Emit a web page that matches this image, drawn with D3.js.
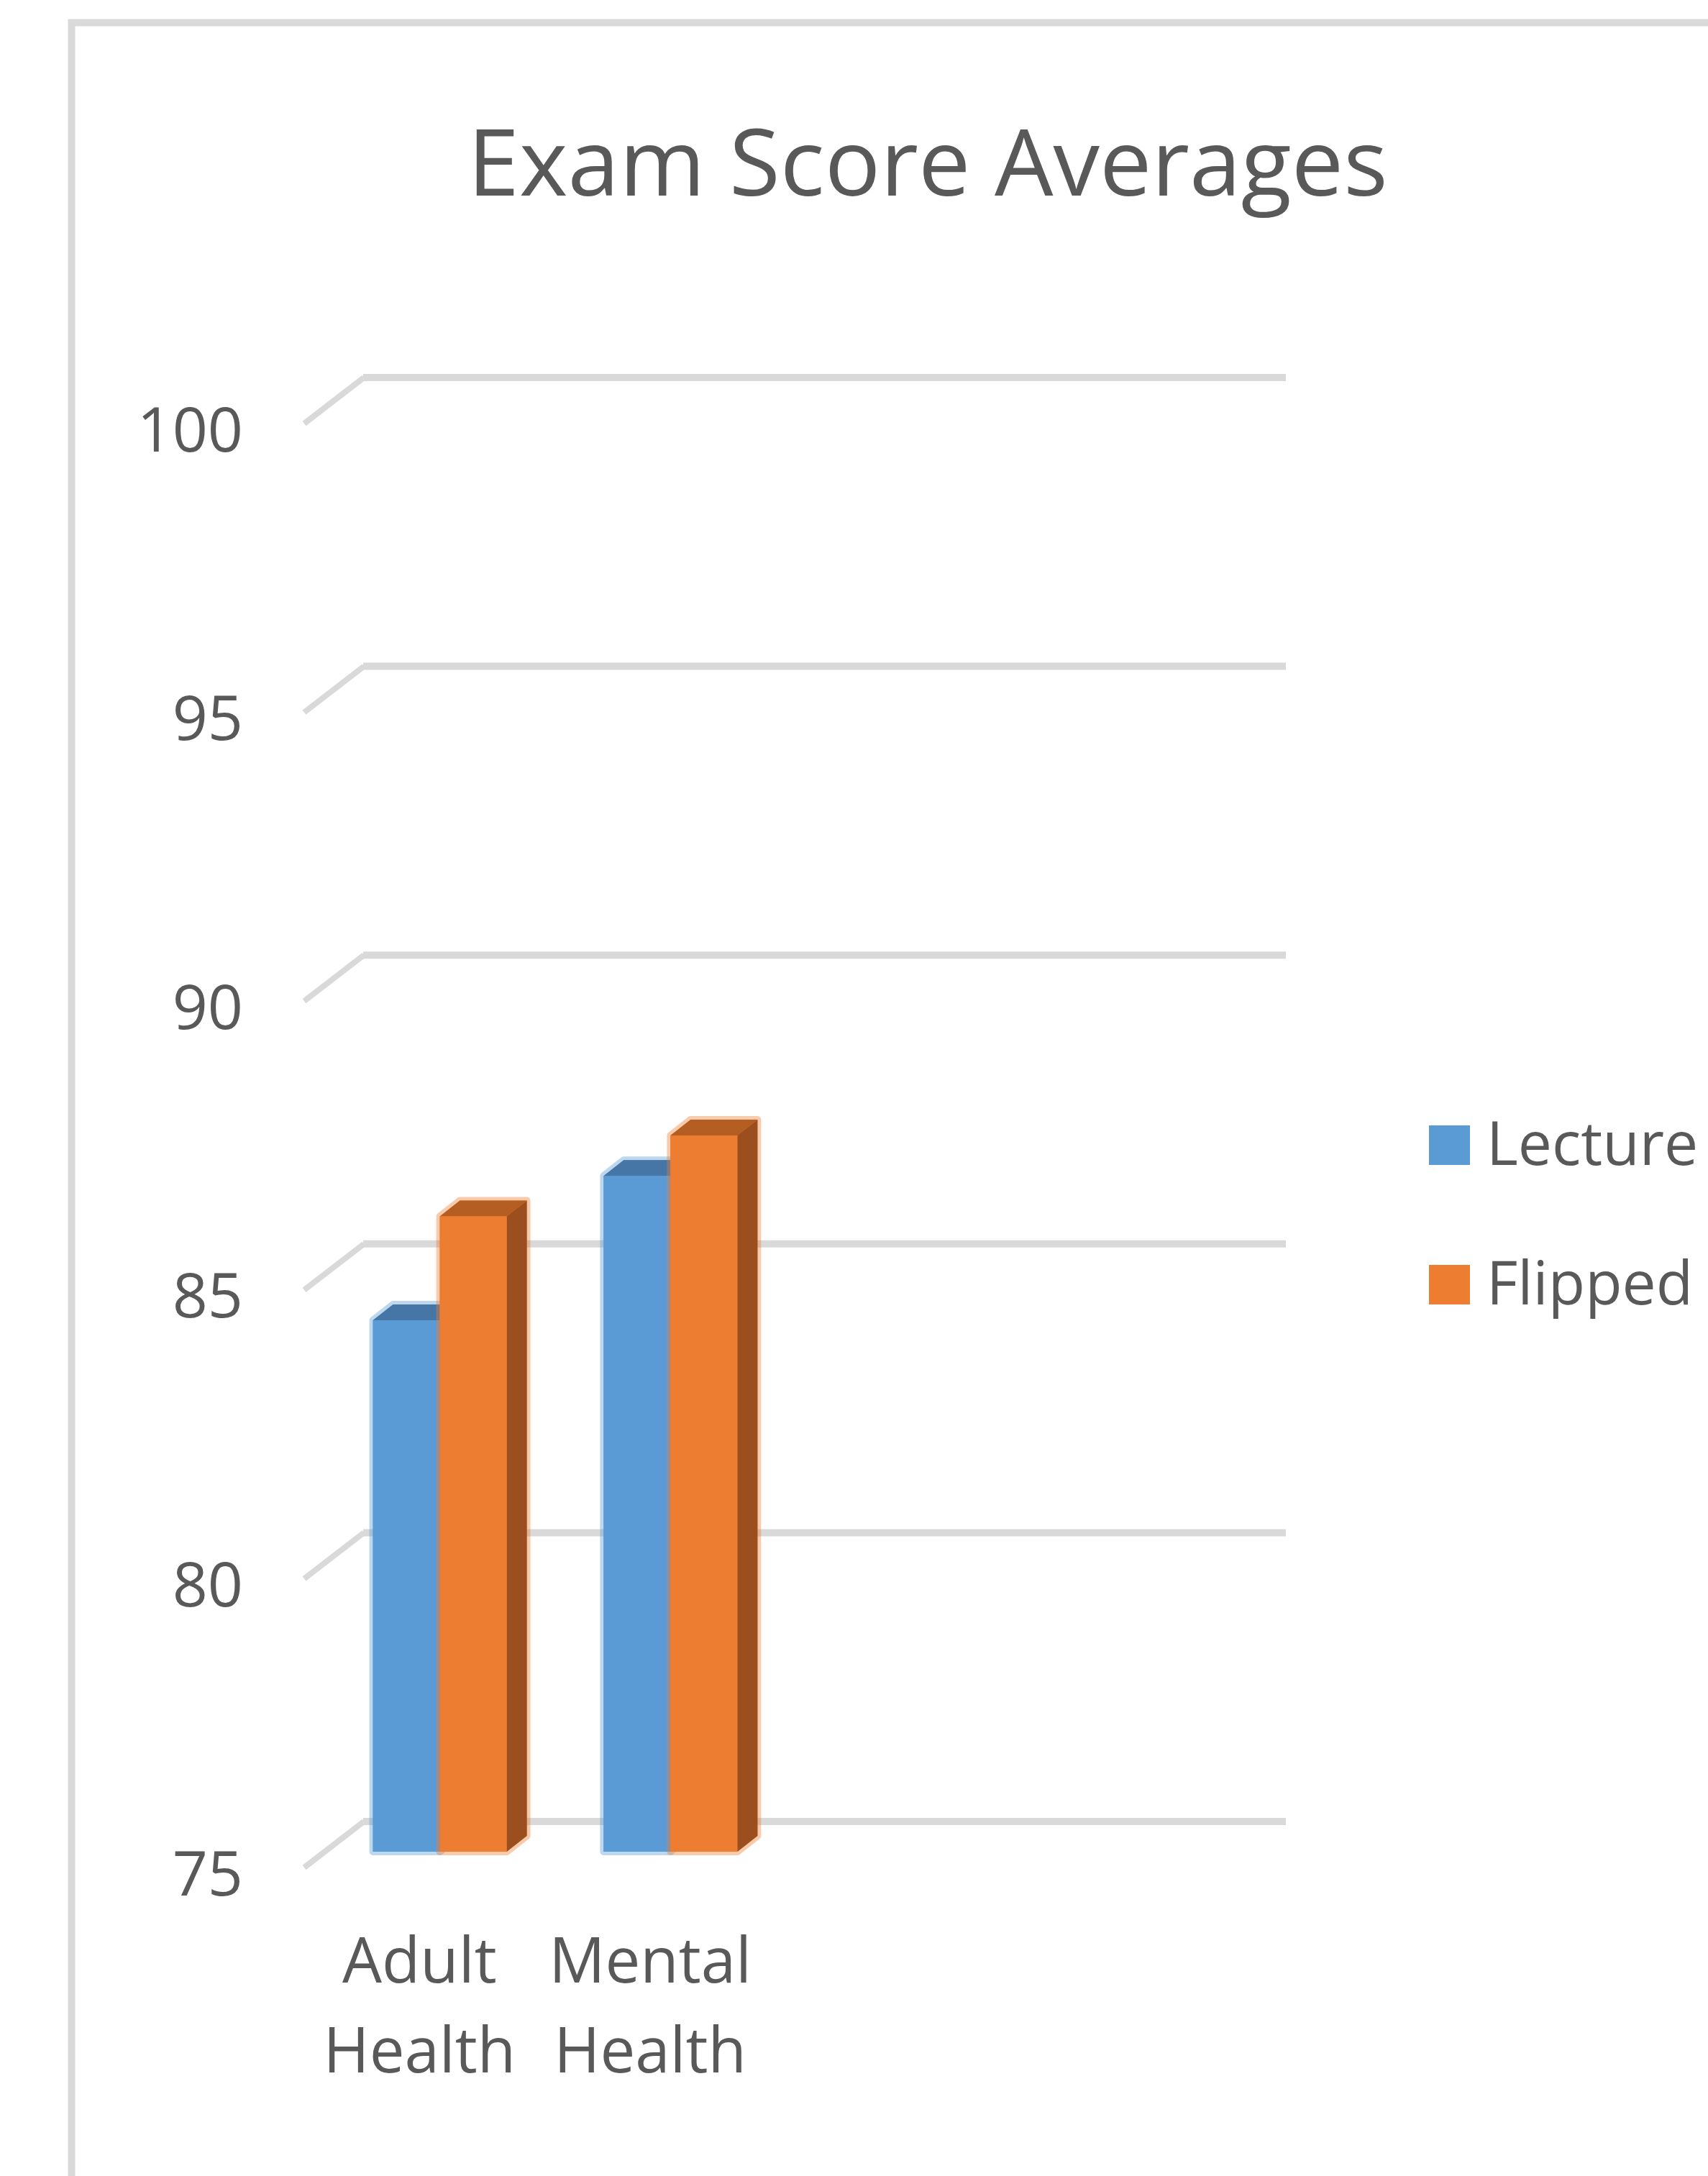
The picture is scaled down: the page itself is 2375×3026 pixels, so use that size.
<!DOCTYPE html>
<html lang="en">
<head>
  <meta charset="UTF-8" />
  <title>Exam Score Averages</title>
  <style>
    body { margin: 0; padding: 0; background: #fff; }
    svg { display: block; }
    text { font-family: "Segoe UI", "Open Sans", sans-serif; fill: #595959; }
  </style>
  <script src="https://d3js.org/d3.v7.min.js"></script>
</head>
<body>
  <svg width="2375" height="3026"></svg>

  <script>
    const categories = ["Adult Health", "Mental Health"];
    const emptySlots = 2; // the chart keeps two blank category slots on the right
    const seriesNames = ["Lecture", "Flipped"];
    const lectureScores = [84.2, 86.7];
    const flippedScores = [86.0, 87.4];
    const yTicks = [75, 80, 85, 90, 95, 100];

    const seriesValues = [lectureScores, flippedScores];
    const colors = [
      { front: "#5b9bd5", top: "#4676a5", side: "#41719c" },
      { front: "#ed7d31", top: "#b55e23", side: "#9b4f1f" }
    ];

    const svg = d3.select("svg");
    const width = +svg.attr("width");
    const height = +svg.attr("height");

    // outer chart frame (runs off the right and bottom of the picture)
    svg.append("rect")
      .attr("x", 99.5).attr("y", 31.5)
      .attr("width", 3000).attr("height", 3500)
      .attr("fill", "#fff")
      .attr("stroke", "#d9d9d9")
      .attr("stroke-width", 10);

    svg.append("text")
      .attr("x", 1290).attr("y", 272)
      .attr("text-anchor", "middle")
      .attr("font-size", 129)
      .text("Exam Score Averages");

    // back wall scale; the floor runs from front to back by (depthX, depthY)
    const wallLeft = 505, wallRight = 1788;
    const depthX = 82, depthY = -64;
    const y = d3.scaleLinear().domain([75, 100]).range([2533, 525]);

    // bars stand part way into the floor
    const barFrac = 0.656;
    const barShiftX = -depthX * barFrac, barShiftY = -depthY * barFrac;
    const barDX = 28, barDY = -22;

    const x = d3.scaleBand()
      .domain(d3.range(categories.length + emptySlots))
      .range([wallLeft + barShiftX, wallRight + barShiftX]);
    const barW = 93;

    const grid = svg.append("g")
      .attr("fill", "none")
      .attr("stroke", "#d9d9d9");

    grid.selectAll("line.wall")
      .data(yTicks)
      .join("line")
      .attr("class", "wall")
      .attr("stroke-width", 10)
      .attr("x1", wallLeft).attr("x2", wallRight)
      .attr("y1", d => y(d)).attr("y2", d => y(d));

    grid.selectAll("line.floor")
      .data(yTicks)
      .join("line")
      .attr("class", "floor")
      .attr("stroke-width", 8)
      .attr("x1", wallLeft - depthX).attr("y1", d => y(d) - depthY)
      .attr("x2", wallLeft + 1).attr("y2", d => y(d));

    svg.append("g")
      .selectAll("text")
      .data(yTicks)
      .join("text")
      .attr("x", 338)
      .attr("y", d => y(d) - depthY + 5)
      .attr("text-anchor", "end")
      .attr("dominant-baseline", "central")
      .attr("font-size", 86)
      .text(d => d);

    // 3D bars
    const barsG = svg.append("g");
    const yBase = y(75) + barShiftY;
    categories.forEach((cat, i) => {
      const groupX = x(i) + (x.bandwidth() - barW * seriesValues.length) / 2;
      seriesValues.forEach((vals, s) => {
        const x0 = groupX + s * barW;
        const x1 = x0 + barW;
        const yTop = y(vals[i]) + barShiftY;
        const c = colors[s];
        const g = barsG.append("g");
        // soft edge like the original rendering
        g.append("path")
          .attr("d", `M${x0},${yBase}L${x0},${yTop}L${x0 + barDX},${yTop + barDY}L${x1 + barDX},${yTop + barDY}L${x1 + barDX},${yBase + barDY}L${x1},${yBase}Z`)
          .attr("fill", c.front)
          .attr("stroke", c.front)
          .attr("stroke-width", 10)
          .attr("stroke-opacity", 0.4)
          .attr("stroke-linejoin", "round");
        g.append("path")
          .attr("d", `M${x1},${yTop}L${x1 + barDX},${yTop + barDY}L${x1 + barDX},${yBase + barDY}L${x1},${yBase}Z`)
          .attr("fill", c.side);
        g.append("path")
          .attr("d", `M${x0},${yTop}L${x0 + barDX},${yTop + barDY}L${x1 + barDX},${yTop + barDY}L${x1},${yTop}Z`)
          .attr("fill", c.top);
        g.append("rect")
          .attr("x", x0).attr("y", yTop)
          .attr("width", barW).attr("height", yBase - yTop)
          .attr("fill", c.front);
      });
    });

    // category labels sit on the front edge of the floor
    const labels = svg.append("g")
      .selectAll("text")
      .data(categories)
      .join("text")
      .attr("text-anchor", "middle")
      .attr("font-size", 87);
    labels.each(function (d, i) {
      const cx = x(i) + x.bandwidth() / 2 - (depthX + barShiftX);
      d.split(" ").forEach((word, k) => {
        d3.select(this).append("tspan")
          .attr("x", cx)
          .attr("y", 2757 + k * 125)
          .text(word);
      });
    });

    // legend
    const legend = svg.append("g")
      .selectAll("g")
      .data(seriesNames)
      .join("g")
      .attr("transform", (d, i) => `translate(1987, ${1593 + i * 194})`);
    legend.append("rect")
      .attr("x", 0).attr("y", -28)
      .attr("width", 57).attr("height", 55)
      .attr("fill", (d, i) => colors[i].front);
    legend.append("text")
      .attr("x", 80).attr("y", 27)
      .attr("font-size", 84)
      .text(d => d);
  </script>
</body>
</html>
